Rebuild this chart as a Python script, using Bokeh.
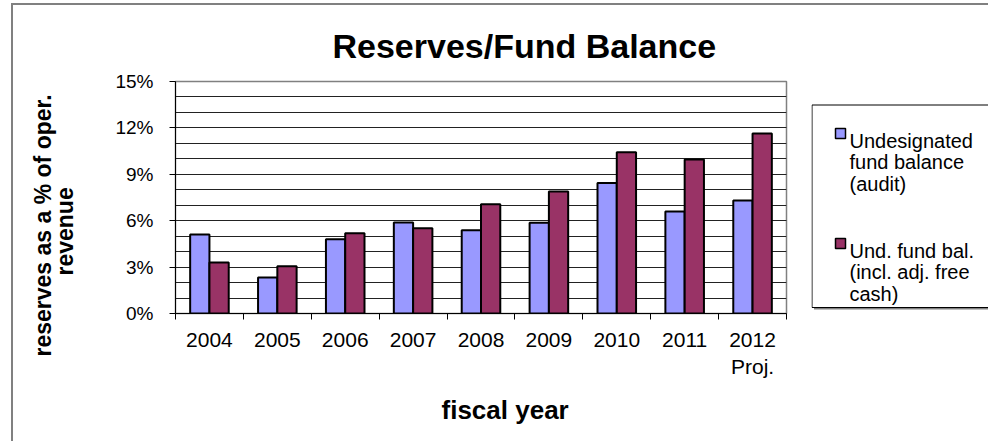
from bokeh.plotting import figure
from bokeh.layouts import row
from bokeh.models import Range1d, FixedTicker, NumeralTickFormatter, Title
from bokeh.core.properties import value
from bokeh.embed import file_html
from bokeh.resources import INLINE

# ---- data ----
years = ["2004", "2005", "2006", "2007", "2008", "2009", "2010", "2011", "2012\nProj."]
undesignated = [0.051, 0.0233, 0.048, 0.0588, 0.0538, 0.0586, 0.0844, 0.0659, 0.073]
und_incl_free_cash = [0.033, 0.0306, 0.0519, 0.0551, 0.0707, 0.0788, 0.1043, 0.0995, 0.1163]
series_labels = [["Undesignated", "fund balance", "(audit)"],
                 ["Und. fund bal.", "(incl. adj. free", "cash)"]]
series_colors = ["#9999FF", "#993366"]
y_tick_values = [0.0, 0.03, 0.06, 0.09, 0.12, 0.15]
title_text = "Reserves/Fund Balance"
y_label_lines = ["reserves as a % of oper.", "revenue"]
x_label_text = "fiscal year"

# ---- layout constants ----
W, H = 988, 441
PW = 811                      # width of the chart part, legend part is the rest
FL, FR, FT, FB = 175, 786, 81, 313
N = len(years)
YMAX = 0.15
FONT = "Liberation Sans"

p = figure(width=PW, height=H, x_range=Range1d(0, N), y_range=Range1d(0, YMAX),
           output_backend="svg", toolbar_location=None,
           min_border_left=FL, min_border_right=PW - FR,
           min_border_top=FT, min_border_bottom=H - FB)
p.background_fill_color = "white"
p.border_fill_alpha = 0
p.outline_line_color = "#808080"
p.outline_line_width = 1.5

# bars
bw = 0.284
xs = [i + 0.5 for i in range(N)]
p.vbar(x=[x - bw / 2 for x in xs], top=undesignated, bottom=0, width=bw,
       fill_color=series_colors[0], line_color="black", line_width=2)
p.vbar(x=[x + bw / 2 for x in xs], top=und_incl_free_cash, bottom=0, width=bw,
       fill_color=series_colors[1], line_color="black", line_width=2)

# x axis
xa = p.xaxis[0]
xa.ticker = FixedTicker(ticks=xs, minor_ticks=list(range(N + 1)))
xa.major_label_overrides = {x: years[i] for i, x in enumerate(xs)}
xa.major_tick_out = 0
xa.major_tick_in = 0
xa.minor_tick_out = 6
xa.minor_tick_in = 0
xa.minor_tick_line_color = "black"
xa.axis_line_color = "black"
xa.major_label_text_font = FONT
xa.major_label_text_font_size = "21px"
xa.major_label_text_color = "black"
xa.major_label_standoff = 8
p.xgrid.visible = False

# y axis
ya = p.yaxis[0]
ya.ticker = FixedTicker(ticks=y_tick_values, minor_ticks=[k / 100 for k in range(16)])
ya.formatter = NumeralTickFormatter(format="0%")
ya.major_tick_out = 6
ya.major_tick_in = 0
ya.minor_tick_out = 0
ya.minor_tick_in = 0
ya.major_tick_line_color = "black"
ya.axis_line_color = "black"
ya.major_label_text_font = FONT
ya.major_label_text_font_size = "19px"
ya.major_label_text_color = "black"
ya.major_label_standoff = 16
p.ygrid.grid_line_color = "#222222"
p.ygrid.minor_grid_line_color = "#222222"
p.ygrid.grid_line_width = 1
p.ygrid.minor_grid_line_width = 1

# title
p.title.text = title_text
p.title.align = "left"
p.title.offset = 157
p.title.standoff = 34
p.title.text_font = FONT
p.title.text_font_size = "34px"
p.title.text_font_style = "bold"
p.title.text_color = "black"

# y axis label as two titles in the left panel
p.add_layout(Title(text=y_label_lines[1], align="left", offset=38, standoff=69.5,
                   text_font=FONT, text_font_size="23px", text_font_style="bold",
                   text_color="black"), "left")
p.add_layout(Title(text=y_label_lines[0], align="left", offset=-43, standoff=-82.5,
                   text_font=FONT, text_font_size="23px", text_font_style="bold",
                   text_color="black"), "left")

# x axis label
p.add_layout(Title(text=x_label_text, align="left", offset=266, standoff=22,
                   text_font=FONT, text_font_size="26px", text_font_style="bold",
                   text_color="black"), "below")

# ---- legend panel (screen-like coordinates, y downwards; frame is aligned with the chart's) ----
q = figure(width=W - PW, height=H, x_range=Range1d(PW, W), y_range=Range1d(FB, FT),
           output_backend="svg", toolbar_location=None,
           x_axis_type=None, y_axis_type=None,
           min_border_left=0, min_border_right=0, min_border_top=FT, min_border_bottom=H - FB)
q.outline_line_color = None
q.background_fill_color = "white"
q.border_fill_alpha = 0
q.xgrid.visible = False
q.ygrid.visible = False

LEG_L, LEG_T, LEG_B = 811.5, 104.5, 307
q.quad(left=[LEG_L + 2], right=[W + 20], top=[LEG_T + 2], bottom=[LEG_B + 2],
       fill_color="#808080", line_color=None)
q.quad(left=[LEG_L], right=[W + 20], top=[LEG_T], bottom=[LEG_B],
       fill_color="white", line_color="black", line_width=1)
item_tops = [128, 238]
for k in range(2):
    t = item_tops[k]
    q.quad(left=[835], right=[845], top=[t], bottom=[t + 10],
           fill_color=series_colors[k], line_color="black", line_width=1.5)
    q.text(x=[849] * 3, y=[t + 12 + j * 21.7 for j in range(3)], text=series_labels[k],
           text_align="left", text_baseline="alphabetic", text_font=value(FONT),
           text_font_size="20px", text_color="black")

# outer chart-area border (left and top edges), drawn as a page background behind the canvases
layout = row(p, q, styles={
    "background-color": "white",
    "background-image": "linear-gradient(#808080, #808080), linear-gradient(#808080, #808080)",
    "background-size": "2px 437px, 977px 2px",
    "background-position": "11px 4px, 11px 3px",
    "background-repeat": "no-repeat",
})

open("out.html", "w").write(file_html(layout, INLINE))
